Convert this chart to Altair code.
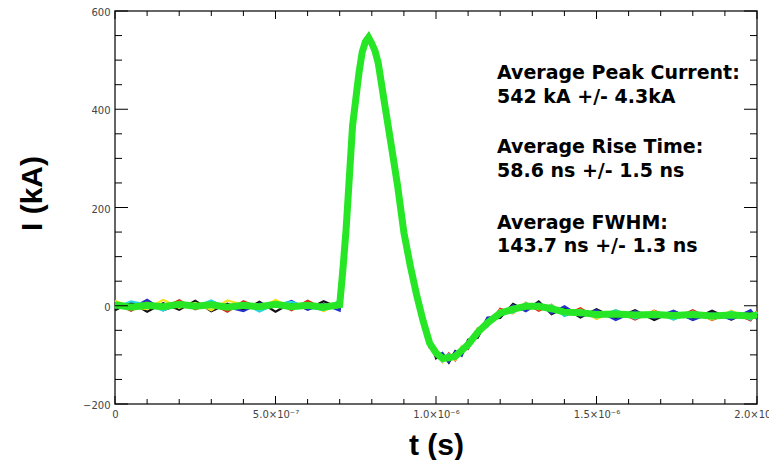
import json
import altair as alt
import pandas as pd

# ---------------- data ----------------
# time grid in microseconds
T_US = [0.00, 0.05, 0.10, 0.15, 0.20, 0.25, 0.30, 0.35, 0.40, 0.45, 0.50, 0.55, 0.60, 0.65, 0.70,
        0.71, 0.72, 0.74, 0.76, 0.77, 0.78, 0.79, 0.80, 0.81, 0.82,
        0.84, 0.86, 0.88, 0.90, 0.92, 0.94, 0.96, 0.98, 1.00,
        1.02, 1.04, 1.06, 1.08, 1.10,
        1.13, 1.16, 1.20, 1.24, 1.28,
        1.32, 1.36, 1.40, 1.45, 1.50,
        1.56, 1.62, 1.68, 1.74, 1.80,
        1.86, 1.92, 1.98, 2.00]

# current traces (kA), one per shot colour
BLACK = [-9, 7, -12, 5, -8, 10, -11, 4, -9, 8, -12, 6, -7, 9, -5,
         81, 147, 370, 469, 522, 529, 541, 541, 511, 503,
         404, 339, 237, 157, 71, 30, -39, -66, -107,
         -98, -116, -92, -100, -69,
         -65, -27, -25, 4, -10,
         9, -17, -4, -24, -7,
         -26, -9, -29, -11, -28,
         -10, -28, -11, -27]
RED = [6, -10, 8, -5, 11, -7, 5, -12, 9, -4, 7, -9, 10, -6, 8,
       70, 162, 359, 483, 510, 544, 553, 530, 525, 489,
       417, 322, 254, 143, 88, 13, -24, -85, -88,
       -114, -97, -111, -84, -88,
       -46, -42, -6, -15, 6,
       -10, 2, -20, -5, -26,
       -10, -28, -10, -27, -9,
       -29, -12, -30, -11]
BLUE = [3, -6, 12, -9, 2, -5, 9, -3, -11, 5, -2, 10, -8, 3, -10,
        78, 151, 358, 479, 512, 543, 539, 527, 522, 490,
        403, 335, 239, 159, 75, 28, -41, -68, -103,
        -96, -114, -93, -102, -72,
        -62, -24, -22, 1, -11,
        6, -15, -1, -21, -9,
        -29, -11, -25, -10, -29,
        -14, -28, -9, -26]
YELLOW = [10, -3, -7, 12, -4, 6, -9, 11, 2, -8, 12, -5, 4, -11, 6,
          71, 160, 373, 478, 509, 542, 552, 538, 512, 499,
          418, 326, 250, 142, 86, 17, -22, -82, -89,
          -115, -100, -110, -83, -85,
          -47, -43, -9, -16, 6,
          -7, 2, -20, -8, -27,
          -9, -25, -11, -28, -12,
          -28, -10, -27, -12]
CYAN = [-4, 9, 2, -10, 7, -2, 11, -6, 5, -12, 3, 8, -3, -9, 11,
        77, 152, 369, 470, 518, 534, 547, 532, 523, 491,
        415, 324, 249, 145, 86, 15, -27, -83, -91,
        -113, -99, -108, -85, -86,
        -49, -43, -11, -14, 5,
        -6, 1, -21, -9, -24,
        -9, -26, -13, -28, -12,
        -26, -12, -28, -14]
GREEN = [2, -3, 1, -2, 3, -1, 2, -3, 1, -2, 3, -2, 1, -3, 2,
         74, 156, 366, 474, 516, 537, 546, 534, 519, 494,
         411, 329, 246, 149, 81, 21, -31, -76, -96,
         -107, -106, -103, -91, -79,
         -54, -35, -15, -7, -1,
         -1, -6, -13, -14, -18,
         -17, -19, -18, -20, -18,
         -21, -19, -21, -19]

TRACE_NAMES = ["black", "red", "blue", "yellow", "cyan"]
TRACE_VALUES = [BLACK, RED, BLUE, YELLOW, CYAN]
TRACE_COLORS = ["#111111", "#e3231b", "#2432c8", "#f2e21e", "#22d6e6"]
GREEN_COLOR = "#26e626"

# axis ticks / labels
X_MAJOR_US = [0.0, 0.5, 1.0, 1.5, 2.0]
X_MINOR_US = [0.1, 0.2, 0.3, 0.4, 0.6, 0.7, 0.8, 0.9, 1.1, 1.2, 1.3, 1.4, 1.6, 1.7, 1.8, 1.9]
X_LABELS = ["0", "5.0×10⁻⁷", "1.0×10⁻⁶", "1.5×10⁻⁶", "2.0×10⁻⁶"]
Y_MAJOR = [-200, 0, 200, 400, 600]
Y_MINOR = [-150, -100, -50, 50, 100, 150, 250, 300, 350, 450, 500, 550]
Y_LABELS = ["−200", "0", "200", "400", "600"]

# annotation text
ANN_TEXT = ["Average Peak Current:", "542 kA +/- 4.3kA",
            "Average Rise Time:", "58.6 ns +/- 1.5 ns",
            "Average FWHM:", "143.7 ns +/- 1.3 ns"]
ANN_T_US = [1.190] * 6
ANN_I = [462, 413, 310, 263, 157, 109]

# ---------------- build chart ----------------
W, H = 642, 393

rows = []
for name, vals in zip(TRACE_NAMES, TRACE_VALUES):
    for t, v in zip(T_US, vals):
        rows.append({"t": t * 1e-6, "I": v, "trace": name})
df_col = pd.DataFrame(rows)
df_green = pd.DataFrame({"t": [t * 1e-6 for t in T_US], "I": GREEN})

xscale = alt.Scale(domain=[0, 2e-6], nice=False, zero=False)
yscale = alt.Scale(domain=[-200, 600], nice=False, zero=False)

x_label_expr = json.dumps(X_LABELS, ensure_ascii=False) + "[round(datum.value*2e6)]"
y_label_expr = json.dumps(Y_LABELS, ensure_ascii=False) + "[round((datum.value+200)/200)]"

xaxis = alt.Axis(values=[v * 1e-6 for v in X_MAJOR_US], labelExpr=x_label_expr,
                 ticks=False, domain=False, grid=False, labelFlush=False,
                 labelOverlap=False, labelBound=False,
                 labelFont="DejaVu Sans", labelFontSize=10, labelColor="#444444",
                 labelPadding=5,
                 title="t (s)", titleFont="Liberation Sans", titleFontSize=30,
                 titleFontWeight="bold", titleColor="black",
                 titleX=W / 2, titleY=50, titleAlign="center",
                 titleBaseline="alphabetic")
yaxis = alt.Axis(values=Y_MAJOR, labelExpr=y_label_expr,
                 ticks=False, domain=False, grid=False, labelFlush=False,
                 labelOverlap=False, labelBound=False,
                 labelFont="DejaVu Sans", labelFontSize=10, labelColor="#444444",
                 labelPadding=5, labelOffset=1.5,
                 title="I (kA)", titleFont="Liberation Sans", titleFontSize=30,
                 titleFontWeight="bold", titleColor="black",
                 titleX=-83, titleY=182, titleAngle=270, titleAlign="center",
                 titleBaseline="middle")

X_ENC = alt.X("t:Q", scale=xscale, axis=xaxis, title="t (s)")
Y_ENC = alt.Y("I:Q", scale=yscale, axis=yaxis, title="I (kA)")

colored = alt.Chart(df_col).mark_line(strokeWidth=2.2).encode(
    x=X_ENC, y=Y_ENC,
    color=alt.Color("trace:N", scale=alt.Scale(domain=TRACE_NAMES, range=TRACE_COLORS),
                    legend=None),
)

green = alt.Chart(df_green).mark_line(strokeWidth=7, color=GREEN_COLOR).encode(
    x=X_ENC, y=Y_ENC,
)


def xticks(vals, y0, y1):
    return alt.Chart(pd.DataFrame({"t": [v * 1e-6 for v in vals]})).mark_rule(
        color="black", strokeWidth=1).encode(
        x=X_ENC, y=alt.value(y0), y2=alt.value(y1))


def yticks(vals, x0, x1):
    return alt.Chart(pd.DataFrame({"I": vals})).mark_rule(
        color="black", strokeWidth=1).encode(
        y=Y_ENC, x=alt.value(x0), x2=alt.value(x1))


tick_layers = [
    xticks(X_MAJOR_US, H, H - 8), xticks(X_MINOR_US, H, H - 5),
    xticks(X_MAJOR_US, 0, 8), xticks(X_MINOR_US, 0, 5),
    yticks(Y_MAJOR, 0, 13), yticks(Y_MINOR, 0, 7),
    yticks(Y_MAJOR, W, W - 13), yticks(Y_MINOR, W, W - 7),
]

ann = alt.Chart(pd.DataFrame({"t": [v * 1e-6 for v in ANN_T_US], "I": ANN_I, "txt": ANN_TEXT})).mark_text(
    align="left", baseline="alphabetic", font="DejaVu Sans", fontWeight="bold",
    fontSize=19, color="black").encode(
    x=X_ENC, y=Y_ENC, text="txt:N")

chart = alt.layer(colored, green, *tick_layers, ann).properties(
    width=W, height=H,
    padding={"left": 107, "top": 3, "right": 12, "bottom": 56},
    autosize="none",
    background="white",
).configure_view(stroke="#333333", strokeWidth=1.5)

chart.save("out.html", embed_options={"renderer": "svg", "actions": False})
